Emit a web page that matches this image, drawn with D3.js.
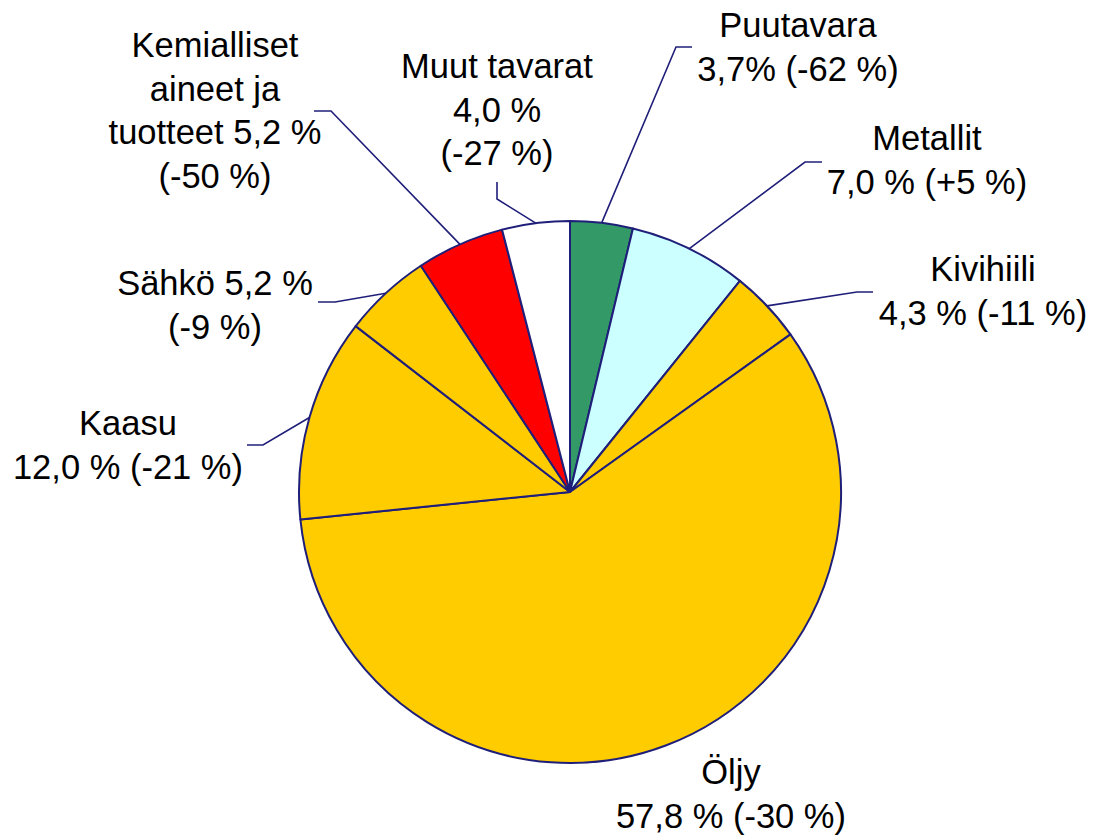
<!DOCTYPE html>
<html>
<head>
<meta charset="utf-8">
<script src="https://cdn.jsdelivr.net/npm/d3@7"></script>
<style>
  body { margin: 0; background: #fff; }
  text { font-family: "Liberation Sans", Arial, sans-serif; }
</style>
</head>
<body>
<div id="chart"></div>
<script>
  // data, clockwise from 12 o'clock
  let categories = ["Puutavara", "Metallit", "Kivihiili", "Öljy", "Kaasu", "Sähkö", "Kemialliset aineet ja tuotteet", "Muut tavarat"];
  let shares = [3.7, 7.0, 4.3, 57.8, 12.0, 5.2, 5.2, 4.0];
  let changes = [-62, 5, -11, -30, -21, -9, -50, -27];
  let colors = ["#339966", "#ccffff", "#ffcc00", "#ffcc00", "#ffcc00", "#ffcc00", "#ff0000", "#ffffff"];
  let labelLines = [
    ["Puutavara", "3,7% (-62 %)"],
    ["Metallit", "7,0 % (+5 %)"],
    ["Kivihiili", "4,3 % (-11 %)"],
    ["Öljy", "57,8 % (-30 %)"],
    ["Kaasu", "12,0 % (-21 %)"],
    ["Sähkö 5,2 %", "(-9 %)"],
    ["Kemialliset", "aineet ja", "tuotteet 5,2 %", "(-50 %)"],
    ["Muut tavarat", "4,0 %", "(-27 %)"]
  ];

  //setup SVG container
  let svgWidth = 1093;
  let svgHeight = 835;
  let cx = 570, cy = 492, radius = 271;
  let lineColor = "#1f1f7a";

  // label layout: text centre x, first baseline, leader bend and end
  let labelPos = [
    {x: 798, y: 37,  bend: [676, 47],  end: [692, 47]},
    {x: 927, y: 150, bend: [805, 162], end: [822, 162]},
    {x: 983, y: 281, bend: [857, 292], end: [873, 292]},
    {x: 731, y: 784, bend: null, end: null},
    {x: 128, y: 435, bend: [263, 445], end: [247, 445]},
    {x: 215, y: 295, bend: [335, 302], end: [318, 302]},
    {x: 215, y: 57,  bend: [331, 111], end: [314, 111]},
    {x: 497, y: 78,  bend: [497, 199], end: [497, 182]}
  ];

  let svg = d3.select("#chart")
              .append("svg")
              .attr("width", svgWidth)
              .attr("height", svgHeight);

  let pieData = shares.map((v, i) => ({name: categories[i], value: v, change: changes[i], i: i}));

  let pie = d3.pie()
              .value(d => d.value)
              .sort(null);

  let arc = d3.arc()
              .innerRadius(0)
              .outerRadius(radius);

  let arcs = pie(pieData);

  let chartGroup = svg.append("g")
                      .attr("transform", `translate(${cx},${cy})`);

  chartGroup.selectAll("path")
            .data(arcs)
            .enter()
              .append("path")
              .attr("d", arc)
              .attr("fill", d => colors[d.data.i])
              .attr("stroke", lineColor)
              .attr("stroke-width", 2)
              .attr("stroke-linejoin", "round");

  // leader lines from slice mid-angle on the rim
  let leaders = svg.append("g");
  arcs.forEach(function(d) {
    let p = labelPos[d.data.i];
    if (!p.bend) return;
    let a = (d.startAngle + d.endAngle) / 2;
    let sx = cx + radius * Math.sin(a);
    let sy = cy - radius * Math.cos(a);
    leaders.append("polyline")
           .attr("points", `${sx},${sy} ${p.bend[0]},${p.bend[1]} ${p.end[0]},${p.end[1]}`)
           .attr("fill", "none")
           .attr("stroke", lineColor)
           .attr("stroke-width", 1.6);
  });

  // labels
  let labels = svg.append("g");
  labelLines.forEach(function(lines, i) {
    let p = labelPos[i];
    let t = labels.append("text")
                  .attr("text-anchor", "middle")
                  .attr("font-size", "34.5px")
                  .attr("fill", "#000");
    lines.forEach(function(s, k) {
      t.append("tspan")
       .attr("x", p.x)
       .attr("y", p.y + k * 43.5)
       .text(s);
    });
  });
</script>
</body>
</html>
